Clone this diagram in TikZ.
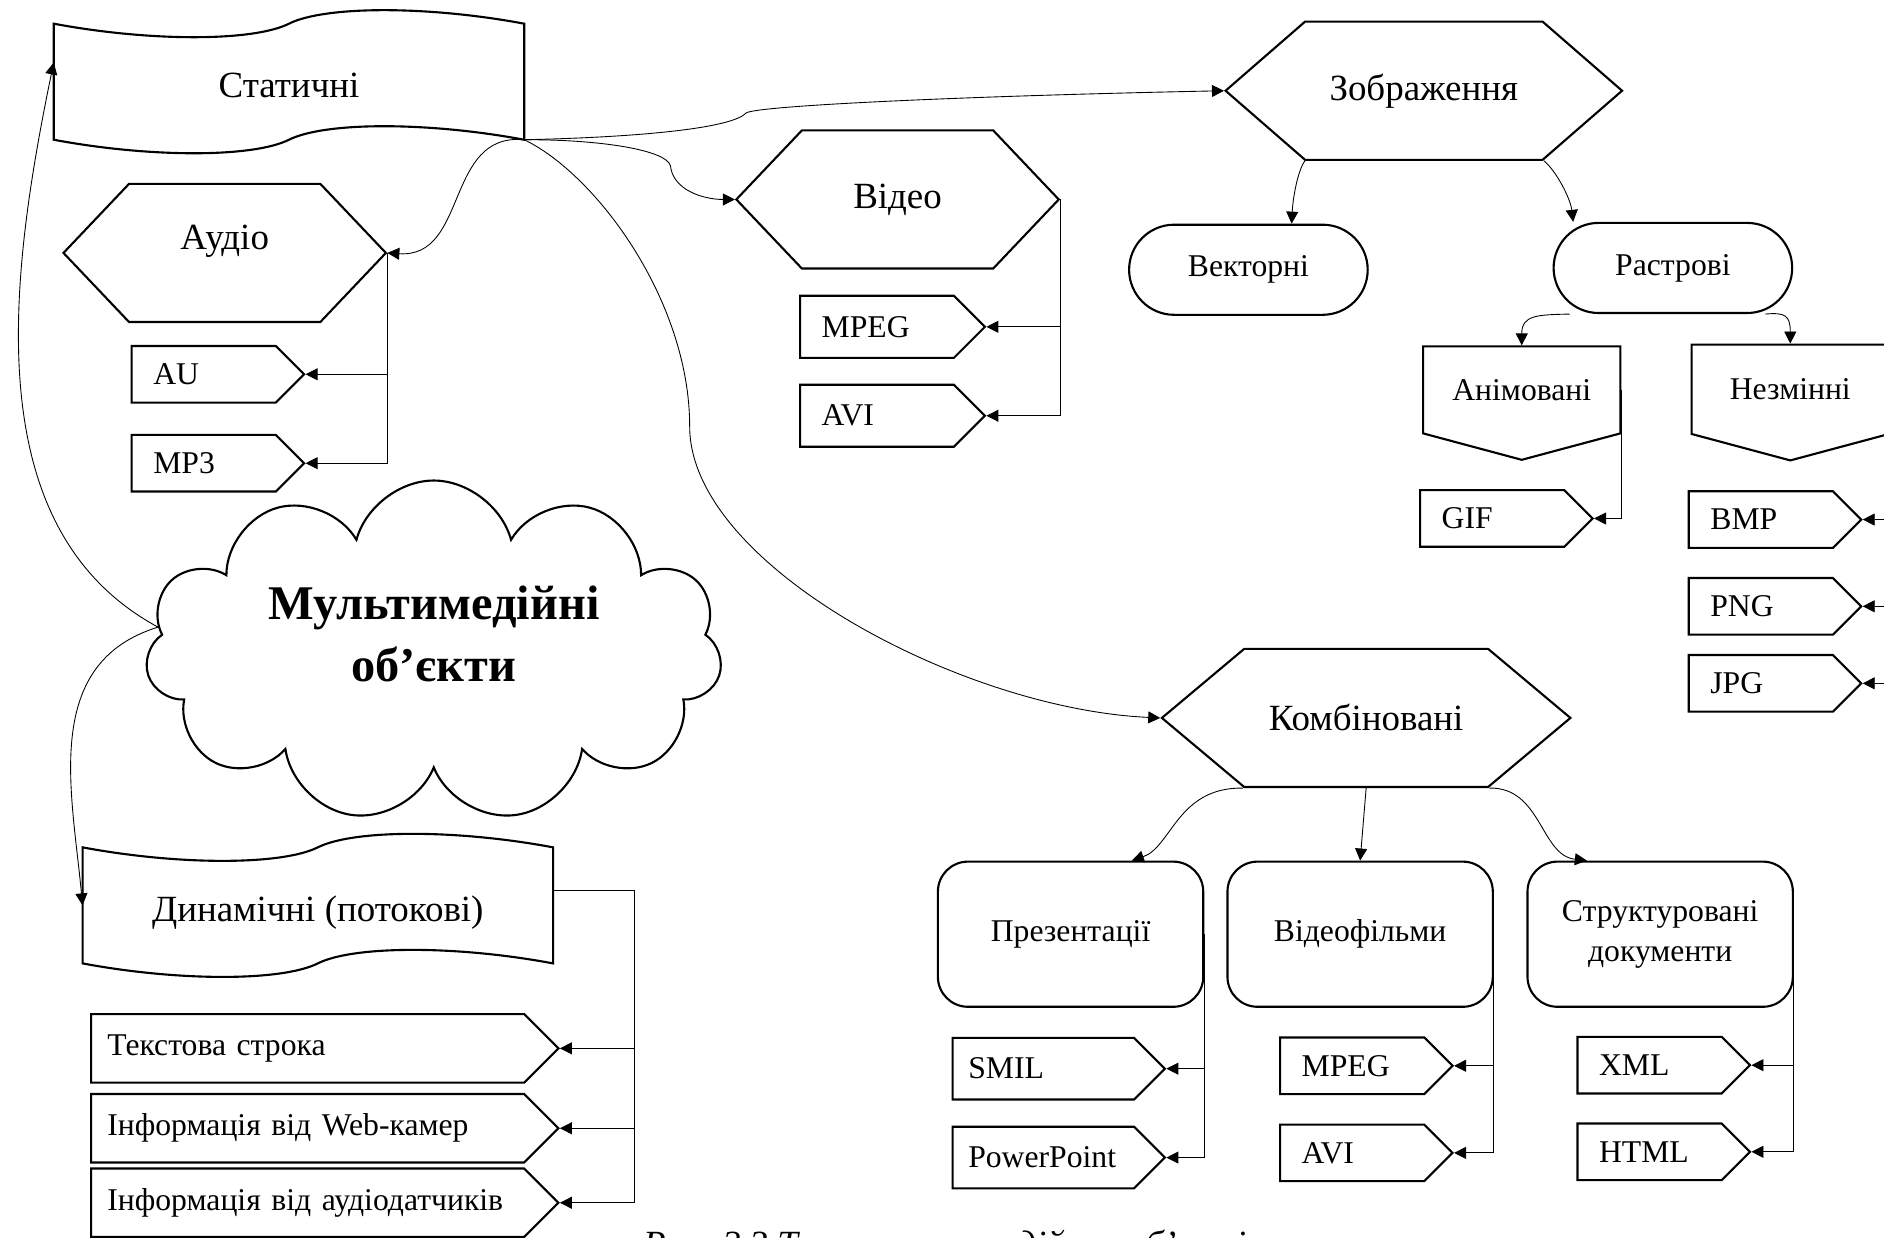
\documentclass[tikz,border=0pt]{standalone}
\usepackage{fontspec}
\setmainfont{Liberation Serif}
\usetikzlibrary{arrows.meta,shapes.symbols,shapes.misc,calc}

\tikzset{
  conn/.style={line width=0.5pt,-{Triangle[length=2.4mm,width=2.4mm]}},
  shp/.style={draw,line width=1.2pt,font=\fontsize{21}{25}\selectfont},
  hexa/.style={shp,shape=signal,signal to=east and west,signal pointer angle=#1,minimum height=27.6mm},
  tapebox/.style={inner sep=0pt,font=\fontsize{21}{25}\selectfont,text height=20pt,text depth=2pt,minimum width=93.84mm,minimum height=23.04mm},
  tapeline/.style={line width=1.2pt},
  pill/.style={shp,shape=rounded rectangle,font=\fontsize{18}{22}\selectfont,minimum width=50mm,minimum height=18mm},
  pagebox/.style={shp,shape=signal,signal to=south,signal pointer angle=150,font=\fontsize{18}{22}\selectfont,minimum width=39.4mm,minimum height=21.4mm},
  combox/.style={shp,rounded corners=6mm,align=center,font=\fontsize{18}{22.5}\selectfont,minimum width=53mm,minimum height=29mm},
  fmt/.style={draw,line width=1.2pt,shape=signal,signal to=east,anchor=west,align=left,font=\fontsize{18}{21}\selectfont,inner xsep=4.32mm,text width=20.16mm,minimum height=#1},
  fmt/.default=11.3mm
}

\begin{document}
\begin{tikzpicture}[x=0.24mm,y=0.24mm]
	\useasboundingbox (0,0) rectangle (1568,-1030);
	\clip (0,0) rectangle (1568,-1030);

	\node[tapebox] (stat) at (240.5,-68) {Статичні};
	\node[tapebox] (dyn) at (264.5,-753.5) {Динамічні (потокові)};
	\foreach \n in {stat,dyn}
		\draw[tapeline] (\n.north west) .. controls +(80,-15) and +(-30,-15) .. (\n.north)
			.. controls +(30,15) and +(-80,15) .. (\n.north east) -- (\n.south east)
			.. controls +(-80,15) and +(30,15) .. (\n.south)
			.. controls +(-30,-15) and +(80,-15) .. (\n.south west) -- cycle;

	\node[cloud,cloud puffs=11,cloud ignores aspect,draw,line width=1.2pt,minimum width=115.2mm,minimum height=68.2mm,align=center,text height=54.3pt,text depth=20.1pt,font=\bfseries\fontsize{27.5}{35}\selectfont] (mm) at (361,-542) {Мультимедійні\\об’єкти};

	\node[hexa=93,minimum width=64.4mm,text height=14pt,text depth=18.4pt] (aud) at (187,-210.5) {Аудіо};
	\node[hexa=93,minimum width=64.4mm] (vid) at (747,-166) {Відео};
	\node[hexa=82,minimum width=79.2mm] (zob) at (1185,-75.5) {Зображення};
	\node[hexa=80,minimum width=81.6mm] (komb) at (1137,-597.5) {Комбіновані};

	\node[pill] (vek) at (1039,-224.5) {Векторні};
	\node[pill] (ras) at (1392.3,-223) {Растрові};
	\node[pagebox] (anim) at (1266.5,-324.5) {Анімовані};
	\node[pagebox] (nez) at (1490,-324) {Незмінні};

	\node[combox] (prez) at (891,-777.5) {Презентації};
	\node[combox] (vf) at (1132,-777.5) {Відеофільми};
	\node[combox] (sd) at (1381.7,-777.5) {Структуровані\\документи};

	\node[fmt] (au) at (108.7,-311.5) {AU};
	\node[fmt] (mp3) at (108.7,-385.5) {MP3};
	\node[fmt=12.4mm,text width=22.08mm] (mpega) at (665,-272) {MPEG};
	\node[fmt=12.4mm,text width=22.08mm] (avia) at (665,-346) {AVI};
	\node[fmt] (gif) at (1181,-431.5) {GIF};
	\node[fmt] (bmp) at (1404.6,-432.4) {BMP};
	\node[fmt] (png) at (1404.6,-504.6) {PNG};
	\node[fmt] (jpg) at (1404.6,-568.7) {JPG};
	\node[fmt=13.7mm,text width=80mm,inner xsep=3.24mm] (txta) at (75,-872.5) {Текстова строка};
	\node[fmt=13.7mm,text width=80mm,inner xsep=3.24mm] (txtb) at (75,-939) {Інформація від Web-камер};
	\node[fmt=13.7mm,text width=80mm,inner xsep=3.24mm] (txtc) at (75,-1001) {Інформація від аудіодатчиків};
	\node[fmt=12.3mm,text width=30mm,inner xsep=3.12mm] (smil) at (792,-889.4) {SMIL};
	\node[fmt=12.3mm,text width=30mm,inner xsep=3.12mm] (ppt) at (792,-963.4) {PowerPoint};
	\node[fmt] (mpegb) at (1064.5,-887) {MPEG};
	\node[fmt] (avib) at (1064.5,-959.5) {AVI};
	\node[fmt] (xml) at (1312,-886.5) {XML};
	\node[fmt] (html) at (1312,-958.6) {HTML};

	\node[anchor=base west,font=\itshape\fontsize{21}{25}\selectfont] (cap) at (530,-1046) {Рис. 2.3 Типи мультимедійних об’єктів};

	\coordinate (hub) at (stat.south east);
	\coordinate (bendV) at (558,-138);
	\coordinate (bendZ) at (621,-94);
	\coordinate (bendK) at (574,-355);
	\coordinate (dynbus) at ($(dyn.east)+(68,12.5)$);

	\draw[conn] (hub) .. controls (370,-110) and (390,-215) .. (aud.east);
	\draw[conn] (hub) .. controls (500,-116) and (555,-125) .. (bendV) .. controls (560,-158) and (585,-166) .. (vid.west);
	\draw[conn] (hub) .. controls (540,-114) and (610,-106) .. (bendZ) .. controls (630,-88) and (800,-80) .. (zob.west);
	\draw[conn] (hub) .. controls (496,-145) and (574,-250) .. (bendK) .. controls (574,-470) and (800,-590) .. (komb.west);

	\draw[conn] (mm.175) .. controls (-20,-440) and (8,-230) .. ($(stat.west)+(0,16)$);
	\draw[conn] (mm.175) .. controls (34,-552) and (60,-659) .. (dyn.west);

	\draw[conn] ($(zob.south)+(-99,0)$) .. controls (1080,-142) and (1076,-165) .. ($(vek.north)+(36,0)$);
	\draw[conn] ($(zob.south)+(100,0)$) .. controls (1295,-142) and (1307,-165) .. ($(ras.north)+(-83,0)$);
	\draw[conn] ($(ras.south)+(-86,0)$) .. controls (1280,-262) and (1266.5,-262) .. (anim.north);
	\draw[conn] ($(ras.south)+(77,0)$) .. controls (1485,-260) and (1490,-262) .. (nez.north);

	\draw[conn] ($(komb.south)+(-102.5,0)$) .. controls (980,-655) and (975,-705) .. ($(prez.north)+(51,0)$);
	\draw[conn] (komb.south) -- (vf.north);
	\draw[conn] ($(komb.south)+(102.5,0)$) .. controls (1283,-655) and (1282,-712) .. ($(sd.north)+(-61,0)$);

	\draw[conn] (aud.east) |- (au.east);
	\draw[conn] (aud.east) |- (mp3.east);
	\draw[conn] (vid.east) |- (mpega.east);
	\draw[conn] (vid.east) |- (avia.east);
	\draw[conn] (anim.east) |- (gif.east);
	\foreach \f in {bmp,png,jpg}
		\draw[conn] (nez.east) |- (\f.east);

	\draw[line width=0.5pt] ($(dyn.east)+(0,12.5)$) -- (dynbus);
	\foreach \t in {txta,txtb,txtc}
		\draw[conn] (dynbus) |- (\t.east);
	\foreach \t in {smil,ppt}
		\draw[conn] (prez.east) |- (\t.east);
	\foreach \t in {mpegb,avib}
		\draw[conn] (vf.east) |- (\t.east);
	\foreach \t in {xml,html}
		\draw[conn] (sd.east) |- (\t.east);
\end{tikzpicture}
\end{document}
